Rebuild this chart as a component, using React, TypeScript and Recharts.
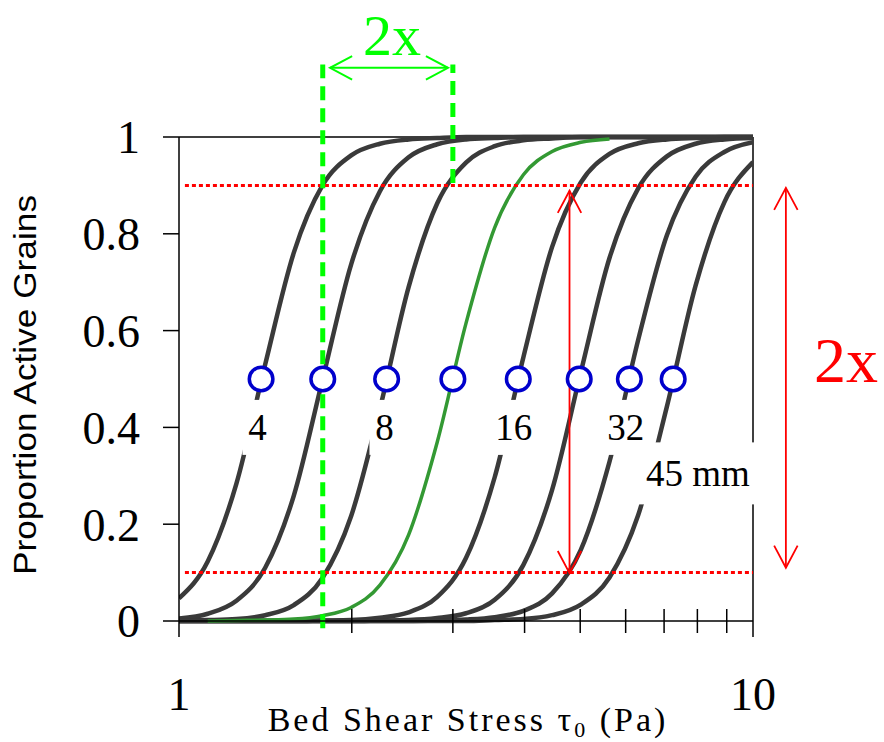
import React from "react";
import {
  ComposedChart,
  Line,
  Scatter,
  XAxis,
  YAxis,
  ReferenceLine,
  ReferenceDot,
} from "recharts";

// bed shear stress (Pa), log spaced samples read along the x axis
const tau = [
  1, 1.122, 1.259, 1.413, 1.585, 1.778, 1.995, 2.239, 2.512, 2.818, 3.162,
  3.548, 3.981, 4.467, 5.012, 5.623, 6.31, 7.079, 7.943, 8.913, 10,
];

// proportion of active grains per grain size
const g4 = [0.047, 0.123, 0.284, 0.53, 0.761, 0.9, 0.962, 0.986, 0.995, 0.998, 1, 1, 1, 1, 1, 1, 1, 1, 1, 1, 1];
const g5 = [0.005, 0.015, 0.042, 0.11, 0.259, 0.498, 0.737, 0.888, 0.958, 0.985, 0.995, 0.998, 1, 1, 1, 1, 1, 1, 1, 1, 1];
const g8 = [0.001, 0.002, 0.004, 0.012, 0.033, 0.089, 0.217, 0.439, 0.69, 0.863, 0.947, 0.981, 0.993, 0.997, 1, 1, 1, 1, 1, 1, 1];
const g11 = [null, 0, 0.001, 0.002, 0.004, 0.011, 0.028, 0.074, 0.178, 0.37, 0.615, 0.813, 0.922, 0.97, 0.989, 0.996, null, null, null, null, null];
const g16 = [0, 0, 0, 0, 0, 0.001, 0.002, 0.007, 0.018, 0.05, 0.13, 0.297, 0.545, 0.773, 0.906, 0.965, 0.987, 0.995, 0.998, 1, 1];
const g22 = [0, 0, 0, 0, 0, 0, 0, 0.001, 0.002, 0.006, 0.016, 0.044, 0.116, 0.271, 0.514, 0.75, 0.894, 0.96, 0.986, 0.995, 0.998];
const g32 = [0, 0, 0, 0, 0, 0, 0, 0, 0, 0.001, 0.003, 0.008, 0.021, 0.057, 0.147, 0.329, 0.581, 0.797, 0.918, 0.969, 0.989];
const g45 = [0, 0, 0, 0, 0, 0, 0, 0, 0, 0, 0, 0.002, 0.004, 0.012, 0.034, 0.09, 0.219, 0.443, 0.693, 0.865, 0.948];

// stress at 50% active for each size (blue circles)
const midStress = [1.39, 1.78, 2.3, 3.0, 3.9, 4.98, 6.09, 7.26];

const thresholds = [0.1, 0.9];
const xTicks = [1, 2, 3, 4, 5, 6, 7, 8, 9, 10];
const yTicks = [0, 0.2, 0.4, 0.6, 0.8, 1];

const sizeLabels = ["4", "8", "16", "32", "45 mm"];
const sizeLabelX = [1.37, 2.28, 3.83, 6.0, 8.02];
const sizeLabelY = [0.4, 0.4, 0.4, 0.4, 0.305];
const sizeLabelW = [30, 30, 48, 48, 118];

// annotation positions (data units)
const greenDashX = [1.78, 3.0];
const greenDashFrom = [-0.015, 0.905];
const dashTop = 1.15;
const greenArrowX = [1.833, 2.942];
const greenArrowY = 1.143;
const redArrowX = [4.79, 11.41];
const redArrowFrom = [0.099, 0.11];
const redArrowTo = [0.889, 0.895];
const twoXX = [2.35, 14.52];
const twoXY = [1.17, 0.494];

const rows = tau.map((x, i) => ({
  x,
  g4: g4[i],
  g5: g5[i],
  g8: g8[i],
  g11: g11[i],
  g16: g16[i],
  g22: g22[i],
  g32: g32[i],
  g45: g45[i],
}));
const dots = midStress.map((x) => ({ x, y: 0.5 }));

const SERIF = "'Liberation Serif', 'Times New Roman', serif";
const SANS = "'Liberation Sans', Arial, sans-serif";
const DARK = "#3a3a3a";
const LIME = "#00ff00";
const RED = "#ff0000";

const arrowShape = (color: string, width: number) => (p: any) => {
  const { x1, y1, x2, y2 } = p;
  const a = Math.atan2(y2 - y1, x2 - x1);
  const L = 25;
  const f = (28 * Math.PI) / 180;
  const endHead = `${x2 - L * Math.cos(a - f)},${y2 - L * Math.sin(a - f)} ${x2},${y2} ${x2 - L * Math.cos(a + f)},${y2 - L * Math.sin(a + f)}`;
  const startHead = `${x1 + L * Math.cos(a - f)},${y1 + L * Math.sin(a - f)} ${x1},${y1} ${x1 + L * Math.cos(a + f)},${y1 + L * Math.sin(a + f)}`;
  return (
    <g>
      <line x1={x1} y1={y1} x2={x2} y2={y2} stroke={color} strokeWidth={width} />
      <polyline points={endHead} fill="none" stroke={color} strokeWidth={width} />
      <polyline points={startHead} fill="none" stroke={color} strokeWidth={width} />
    </g>
  );
};

const XTick = (props: any) => {
  const { x, y, payload } = props;
  const v = payload.value;
  const major = v === 1 || v === 10;
  return (
    <g>
      {major ? (
        <line x1={x} y1={y} x2={x} y2={y + 16} stroke="#000" strokeWidth={1.5} />
      ) : (
        <line x1={x} y1={y - 12} x2={x} y2={y + 12} stroke="#000" strokeWidth={1.5} />
      )}
      {major && (
        <text x={x} y={y + 89} textAnchor="middle" fontFamily={SERIF} fontSize={46} fill="#000">
          {v}
        </text>
      )}
    </g>
  );
};

const XLabel = (props: any) => {
  const { x, y } = props.viewBox;
  return (
    <text x={x + 289} y={y + 110} textAnchor="middle" fontFamily={SERIF} fontSize={34} letterSpacing={3} fill="#000">
      Bed Shear Stress τ
      <tspan fontSize={22} dy={6}>0</tspan>
      <tspan dy={-6}> (Pa)</tspan>
    </text>
  );
};

const YLabel = (props: any) => {
  const { x, y } = props.viewBox;
  const tx = x - 83;
  const ty = y + 248;
  return (
    <text
      x={tx}
      y={ty}
      textAnchor="middle"
      transform={`rotate(-90, ${tx}, ${ty})`}
      fontFamily={SANS}
      fontSize={32}
      textLength={380}
      lengthAdjust="spacingAndGlyphs"
      fill="#000"
    >
      Proportion Active Grains
    </text>
  );
};

const Ring = (props: any) => (
  <circle cx={props.cx} cy={props.cy} r={11.8} fill="#fff" stroke="#0000cc" strokeWidth={3.5} />
);

const sizeLabelShape = (text: string, w: number) => (p: any) => {
  const h = text.length > 2 ? 62 : 55;
  return (
    <g>
      <rect x={p.cx - w / 2} y={p.cy - h / 2} width={w} height={h} fill="#fff" />
      <text x={p.cx} y={p.cy + 13} textAnchor="middle" fontFamily={SERIF} fontSize={37} fill="#000">
        {text}
      </text>
    </g>
  );
};

const twoXShape = (color: string, size: number) => (p: any) => (
  <text x={p.cx} y={p.cy} textAnchor="middle" fontFamily={SERIF} fontSize={size} fill={color}>
    2x
  </text>
);

const seriesKeys = ["g4", "g5", "g8", "g16", "g22", "g32", "g45"];

export default function App() {
  return (
    <div style={{ position: "absolute", left: 0, top: 0, width: 884, height: 742, background: "#fff" }}>
      <ComposedChart
        width={884}
        height={742}
        data={rows}
        margin={{ top: 137, right: 131, left: 119, bottom: 61 }}
      >
        <XAxis
          dataKey="x"
          type="number"
          scale="log"
          domain={[1, 10]}
          allowDataOverflow
          ticks={xTicks}
          interval={0}
          height={60}
          tickSize={0}
          tickMargin={0}
          tickLine={false}
          axisLine={{ stroke: "#000", strokeWidth: 1.5 }}
          tick={<XTick />}
          label={XLabel}
        />
        <YAxis
          type="number"
          domain={[0, 1]}
          ticks={yTicks}
          interval={0}
          width={60}
          tickSize={16}
          tickMargin={23}
          axisLine={{ stroke: "#000", strokeWidth: 1.5 }}
          tickLine={{ stroke: "#000", strokeWidth: 1.5 }}
          tick={{ fill: "#000", fontSize: 46, fontFamily: SERIF }}
          label={YLabel}
        />

        <ReferenceLine y={1} stroke="#000" strokeWidth={1.5} />
        <ReferenceLine x={10} stroke="#000" strokeWidth={1.5} />

        {seriesKeys.map((k) => (
          <Line
            key={k}
            dataKey={k}
            type="monotone"
            stroke={DARK}
            strokeWidth={4.5}
            dot={false}
            activeDot={false}
            isAnimationActive={false}
          />
        ))}
        <Line
          dataKey="g11"
          type="monotone"
          stroke="#339933"
          strokeWidth={3.5}
          dot={false}
          activeDot={false}
          isAnimationActive={false}
        />

        <Scatter data={dots} dataKey="y" shape={Ring} isAnimationActive={false} />

        {sizeLabels.map((t, i) => (
          <ReferenceDot
            key={t}
            x={sizeLabelX[i]}
            y={sizeLabelY[i]}
            r={0}
            ifOverflow="visible"
            shape={sizeLabelShape(t, sizeLabelW[i])}
          />
        ))}

        {thresholds.map((t) => (
          <ReferenceLine
            key={t}
            segment={[
              { x: 1.024, y: t },
              { x: 10, y: t },
            ]}
            stroke={RED}
            strokeWidth={3}
            strokeDasharray="4 3"
          />
        ))}

        {greenDashX.map((x, i) => (
          <ReferenceLine
            key={x}
            segment={[
              { x, y: greenDashFrom[i] },
              { x, y: dashTop },
            ]}
            ifOverflow="visible"
            stroke={LIME}
            strokeWidth={5}
            strokeDasharray="14 8"
          />
        ))}

        <ReferenceLine
          segment={[
            { x: greenArrowX[0], y: greenArrowY },
            { x: greenArrowX[1], y: greenArrowY },
          ]}
          ifOverflow="visible"
          shape={arrowShape(LIME, 2)}
        />
        {redArrowX.map((x, i) => (
          <ReferenceLine
            key={x}
            segment={[
              { x, y: redArrowFrom[i] },
              { x, y: redArrowTo[i] },
            ]}
            ifOverflow="visible"
            shape={arrowShape(RED, 1.8)}
          />
        ))}

        <ReferenceDot x={twoXX[0]} y={twoXY[0]} r={0} ifOverflow="visible" shape={twoXShape(LIME, 58)} />
        <ReferenceDot x={twoXX[1]} y={twoXY[1]} r={0} ifOverflow="visible" shape={twoXShape(RED, 64)} />
      </ComposedChart>
    </div>
  );
}
